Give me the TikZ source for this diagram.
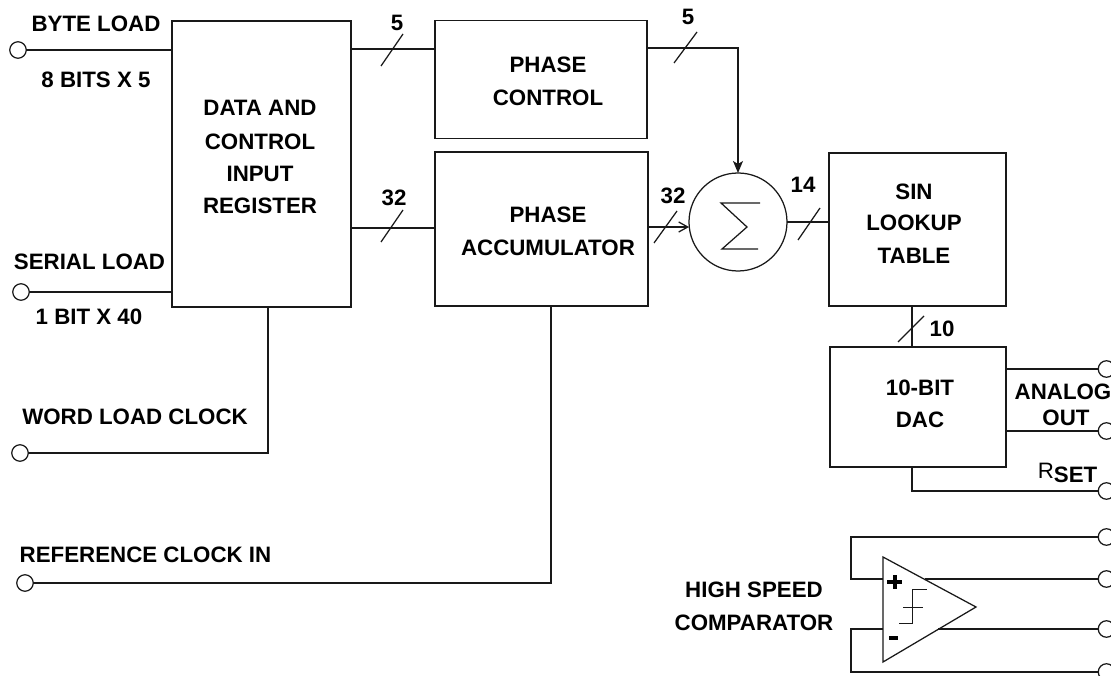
\documentclass[tikz,border=0pt]{standalone}
\usepackage{fontspec}
\setmainfont{Liberation Sans}
\usetikzlibrary{calc,arrows.meta}
\tikzset{
  wire/.style={line width=1.25pt,draw=black!90,line join=miter},
  blockbox/.style={draw=black!90,line width=1.25pt,inner sep=0pt,outer sep=0pt},
  terminal/.style={circle,draw=black!90,line width=1.25pt,minimum size=16.5pt,inner sep=0pt,outer sep=0pt},
  lbl/.style={inner sep=0pt,outer sep=0pt,font=\fontsize{22.3}{24}\selectfont\bfseries,text=black,align=center},
  flowdown/.style={wire,-{Stealth[length=12pt,width=10pt,inset=3pt]}},
  flowright/.style={wire,-{Straight Barb[length=9pt,width=10pt,line width=1.25pt]}}
}
\newcommand{\busmark}[4]{\draw[wire] (#1,#2) -- (#3,#4);}
\begin{document}
\begin{tikzpicture}[x=1pt,y=-1pt]
\useasboundingbox (0,0) rectangle (1111,676);
% blocks
\node[blockbox,minimum width=179pt,minimum height=286pt] (data) at (261.5,164) {};
\node[blockbox,minimum width=212pt,minimum height=118pt] (pc) at (541,79.5) {};
\node[blockbox,minimum width=213pt,minimum height=154pt] (acc) at (541.5,229) {};
\node[circle,draw=black!90,line width=1.25pt,minimum size=98pt,inner sep=0pt,outer sep=0pt] (sum) at (738,222) {};
\node[blockbox,minimum width=177pt,minimum height=153pt] (sin) at (917.5,229.5) {};
\node[blockbox,minimum width=176pt,minimum height=120pt] (dac) at (918,407) {};
% terminals
\node[terminal] (tbyte) at (18,50) {};
\node[terminal] (tser) at (21,292) {};
\node[terminal] (tword) at (20,453) {};
\node[terminal] (tref) at (25,583) {};
\node[terminal] (ta1) at (1106.5,369) {};
\node[terminal] (ta2) at (1106.5,431) {};
\node[terminal] (trs) at (1106.5,491) {};
\node[terminal] (tc1) at (1106.5,537) {};
\node[terminal] (tc2) at (1106.5,579) {};
\node[terminal] (tc3) at (1106.5,629) {};
\node[terminal] (tc4) at (1106.5,672) {};
% comparator
\coordinate (cA) at (883,557);
\coordinate (cB) at (883,662);
\coordinate (cC) at (976,607);
\coordinate (cP) at (883,579);
\coordinate (cM) at (883,629);
\draw[wire] (cA) -- (cB) -- (cC) -- cycle;
\draw[wire] (tc1) -- (851,537) -- (851,579) -- (cP);
\draw[wire] (tc4) -- (851,672) -- (851,629) -- (cM);
\draw[wire] (tc2) -- (925,579);
\draw[wire] (tc3) -- (938,629);
\draw[line width=1pt,black!90] (899,623) -- (912,623) -- (912,589) -- (927,589);
\draw[line width=1pt,black!90] (903,607) -- (923,607);
\draw[line width=4pt,black] (887,582) -- (902,582) (894.5,575) -- (894.5,589);
\draw[line width=4pt,black] (889,638) -- (898,638);
% connectors
\draw[wire] (tbyte) -- (tbyte -| data.west);
\draw[wire] (tser) -- (tser -| data.west);
\coordinate (wordup) at (268,453);
\draw[wire] (tword) -- (wordup) -- (wordup |- data.south);
\coordinate (refup) at (551,583);
\draw[wire] (tref) -- (refup) -- (refup |- acc.south);
\draw[wire] (data.east |- 0,49) -- (pc.west |- 0,49);
\draw[wire] (data.east |- 0,228) -- (acc.west |- 0,228);
\coordinate (pcout) at (647,48);
\draw[flowdown] (pcout) -- (pcout -| sum.north) -- (sum.north);
\coordinate (accout) at (648,227);
\draw[flowright] (accout) -- (accout -| sum.west);
\draw[wire] (sum.east) -- (sum.east -| sin.west);
\coordinate (sd) at (912,306);
\draw[wire] (sd) -- (sd |- dac.north);
\draw[wire] (ta1) -- (ta1 -| dac.east);
\draw[wire] (ta2) -- (ta2 -| dac.east);
\coordinate (rsdown) at (912,491);
\draw[wire] (trs) -- (rsdown) -- (rsdown |- dac.south);
% bus marks
\busmark{381}{66}{403}{34}
\busmark{674}{63}{697}{32}
\busmark{381}{242}{403}{210}
\busmark{654}{243}{677}{211}
\busmark{798}{240}{820}{208}
\busmark{898}{342}{924}{316}
% sigma
\draw[wire] (760,203) -- (721,203) -- (747,227) -- (722,249) -- (758,249);
% labels
\node[lbl] (l1) at (96,24) {BYTE LOAD};
\node[lbl] (l2) at (96,80) {8 BITS X 5};
\node[lbl] (l3) at (89.5,262) {SERIAL LOAD};
\node[lbl] (l4) at (89,317) {1 BIT X 40};
\node[lbl] (l5) at (135,417) {WORD LOAD CLOCK};
\node[lbl] (l6) at (145.5,555) {REFERENCE CLOCK IN};
\node[lbl] (l7) at (260,108) {DATA AND};
\node[lbl] (l8) at (260,142) {CONTROL};
\node[lbl] (l9) at (260,174) {INPUT};
\node[lbl] (l10) at (260,206) {REGISTER};
\node[lbl] (l11) at (548,65) {PHASE};
\node[lbl] (l12) at (548,98) {CONTROL};
\node[lbl] (l13) at (548,215) {PHASE};
\node[lbl] (l14) at (548,248) {ACCUMULATOR};
\node[lbl] (l15) at (914,192) {SIN};
\node[lbl] (l16) at (914,223) {LOOKUP};
\node[lbl] (l17) at (914,256) {TABLE};
\node[lbl] (l18) at (920,388) {10-BIT};
\node[lbl] (l19) at (920,420) {DAC};
\node[lbl] (l20) at (1063,392) {ANALOG};
\node[lbl] (l21) at (1066,418) {OUT};
\node[lbl] (l22) at (1067.5,473) {\fontseries{m}\selectfont R\raisebox{-4pt}{\bfseries SET}};
\node[lbl] (l23) at (754,590) {HIGH SPEED};
\node[lbl] (l24) at (754,623) {COMPARATOR};
\node[lbl] (n1) at (397,23) {5};
\node[lbl] (n2) at (688,17) {5};
\node[lbl] (n3) at (394,198) {32};
\node[lbl] (n4) at (673,196) {32};
\node[lbl] (n5) at (803,185) {14};
\node[lbl] (n6) at (942,329) {10};
\end{tikzpicture}
\end{document}
